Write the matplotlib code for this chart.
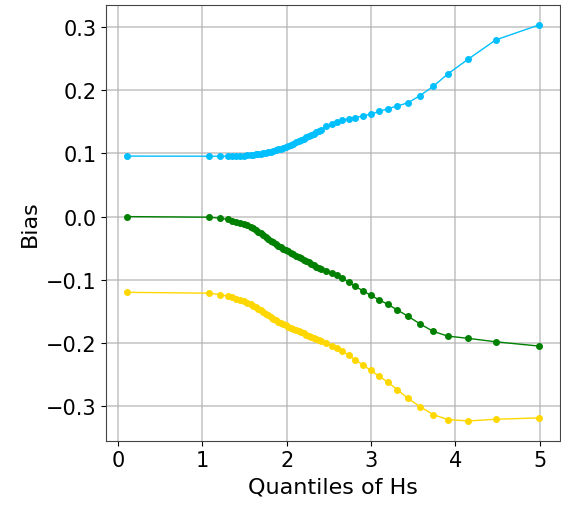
import numpy as np
import matplotlib
matplotlib.use("Agg")
import matplotlib.pyplot as plt

# Quantile positions of Hs (shared by all three curves)
quantiles = [0.10, 1.08, 1.21, 1.30, 1.35, 1.40, 1.45, 1.49, 1.53, 1.57,
             1.60, 1.63, 1.66, 1.69, 1.72, 1.75, 1.78, 1.81, 1.84, 1.87,
             1.90, 1.93, 1.96, 1.99, 2.02, 2.05, 2.08, 2.11, 2.14, 2.17,
             2.20, 2.23, 2.26, 2.29, 2.32, 2.35, 2.38, 2.41,
             2.467, 2.534, 2.594, 2.66, 2.736, 2.811, 2.903, 2.998, 3.10, 3.20,
             3.314, 3.441, 3.58, 3.738, 3.912, 4.157, 4.482, 4.997]

bias_upper = [0.0957, 0.0955, 0.0955, 0.0955, 0.0955, 0.0957, 0.0959, 0.0963, 0.0967, 0.0973,
              0.0979, 0.0985, 0.0991, 0.0997, 0.1004, 0.1012, 0.1020, 0.1029, 0.1039, 0.1050,
              0.1062, 0.1075, 0.1089, 0.1104, 0.1120, 0.1137, 0.1155, 0.1173, 0.1192, 0.1212,
              0.1232, 0.1253, 0.1274, 0.1294, 0.1313, 0.1332, 0.1351, 0.1370,
              0.1426, 0.1469, 0.1501, 0.1521, 0.1548, 0.1564, 0.1591, 0.1623, 0.1664, 0.1707,
              0.1750, 0.1802, 0.1913, 0.2060, 0.2257, 0.2494, 0.2796, 0.3033]

bias_mean = [0.0, -0.0010, -0.0025, -0.0045, -0.0062, -0.0080, -0.0100, -0.0117, -0.0137, -0.0163,
             -0.0185, -0.0210, -0.0236, -0.0262, -0.0290, -0.0320, -0.0350, -0.0380, -0.0408, -0.0435,
             -0.0461, -0.0485, -0.0508, -0.0530, -0.0552, -0.0573, -0.0595, -0.0617, -0.0638, -0.0660,
             -0.0682, -0.0703, -0.0725, -0.0746, -0.0768, -0.0790, -0.0808, -0.0825,
             -0.0856, -0.0892, -0.0924, -0.0971, -0.1040, -0.1103, -0.1173, -0.1246, -0.1320, -0.1388,
             -0.1479, -0.1578, -0.1696, -0.1816, -0.1891, -0.1927, -0.1981, -0.2049]

bias_lower = [-0.1198, -0.1212, -0.1236, -0.1260, -0.1277, -0.1296, -0.1320, -0.1340, -0.1362, -0.1387,
              -0.1408, -0.1430, -0.1456, -0.1482, -0.1508, -0.1535, -0.1562, -0.1588, -0.1614, -0.1640,
              -0.1662, -0.1684, -0.1704, -0.1722, -0.1740, -0.1758, -0.1776, -0.1794, -0.1812, -0.1830,
              -0.1848, -0.1866, -0.1884, -0.1902, -0.1920, -0.1938, -0.1956, -0.1972,
              -0.2002, -0.2044, -0.2081, -0.2129, -0.2192, -0.2266, -0.2345, -0.2434, -0.2529, -0.2620,
              -0.2742, -0.2878, -0.3005, -0.3132, -0.3211, -0.3233, -0.3206, -0.3185]

fig = plt.figure(figsize=(5.61, 5.06), dpi=100)
ax = fig.add_axes([0.189, 0.127, 0.809, 0.861])

ax.plot(quantiles, bias_upper, 'o-', color='deepskyblue', markersize=4, linewidth=1)
ax.plot(quantiles, bias_mean, 'o-', color='green', markersize=4, linewidth=1)
ax.plot(quantiles, bias_lower, 'o-', color='gold', markersize=4, linewidth=1)

ax.set_xticks([0, 1, 2, 3, 4, 5])
ax.set_yticks([-0.3, -0.2, -0.1, 0.0, 0.1, 0.2, 0.3])
ax.grid(True, color='#b0b0b0', linewidth=1.2, alpha=0.7)
ax.tick_params(labelsize=15)
ax.set_xlabel('Quantiles of Hs', fontsize=16)
ax.set_ylabel('Bias', fontsize=16)
for s in ax.spines.values():
    s.set_color('#444444')

fig.savefig('out.png', dpi=100)
